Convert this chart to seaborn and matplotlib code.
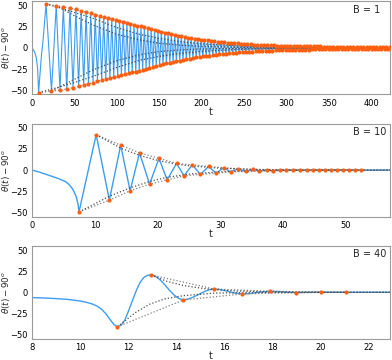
import matplotlib
matplotlib.use('Agg')
import matplotlib.pyplot as plt
import numpy as np
import pandas as pd
import seaborn as sns

# ---- data ----
# B = 1 : extrema of theta(t) - 90 (t, value)
b1_max = [
    (16.4, 52.0), (28.4, 50.0), (36.8, 48.5), (44.6, 47.0), (51.6, 45.5),
    (57.8, 44.0), (63.6, 42.5), (69.1, 41.0), (74.4, 39.5), (79.5, 38.0),
    (84.4, 36.8), (89.2, 35.6), (93.9, 34.4), (98.5, 33.2), (103.0, 32.0),
    (107.4, 30.9), (111.7, 29.8), (115.9, 28.7), (120.1, 27.6), (124.2, 26.5),
    (128.3, 25.4), (132.3, 24.3), (136.3, 23.2), (140.3, 22.1), (144.3, 21.0),
    (148.3, 20.0), (152.3, 19.0), (156.3, 18.0), (160.3, 17.1), (164.2, 16.2),
    (168.1, 15.4), (172.0, 14.6), (175.9, 13.8), (179.8, 13.0), (183.7, 12.3),
    (187.6, 11.6), (191.5, 11.0), (195.4, 10.4), (199.3, 9.8), (203.2, 9.3),
    (207.1, 8.8), (211.0, 8.3), (214.9, 7.8), (218.8, 7.4), (222.7, 7.0),
    (226.6, 6.6), (230.5, 6.2), (234.4, 5.9), (238.3, 5.6), (242.2, 5.3),
    (246.1, 5.0), (250.0, 4.7), (253.9, 4.5), (257.8, 4.2), (261.7, 4.0),
    (265.6, 3.8), (269.5, 3.6), (273.4, 3.4), (277.3, 3.2), (281.2, 3.1),
    (285.1, 2.9), (289.0, 2.8), (292.9, 2.6), (296.8, 2.5), (300.7, 2.4),
    (304.6, 2.3), (308.5, 2.2), (312.4, 2.1), (316.3, 2.0), (320.2, 1.9),
    (324.1, 1.9), (328.0, 1.8), (331.9, 1.8), (335.8, 1.7), (339.7, 1.7),
    (343.6, 1.6), (347.5, 1.6), (351.4, 1.5), (355.3, 1.5), (359.2, 1.4),
    (363.1, 1.4), (367.0, 1.4), (370.9, 1.3), (374.8, 1.3), (378.7, 1.3),
    (382.6, 1.2), (386.5, 1.2), (390.4, 1.2), (394.3, 1.2), (398.2, 1.1),
    (402.1, 1.1), (406.0, 1.1), (409.9, 1.1), (413.8, 1.0), (417.7, 1.0),
    (421.6, 1.0),
]
b1_min = [
    (7.6, -53.0), (22.8, -51.0), (32.8, -50.0), (40.8, -48.5), (48.2, -47.0),
    (54.8, -45.5), (60.8, -44.0), (66.4, -42.5), (71.8, -41.0), (77.0, -39.5),
    (82.0, -38.2), (86.8, -37.0), (91.6, -35.8), (96.2, -34.6), (100.8, -33.4),
    (105.2, -32.3), (109.6, -31.2), (113.8, -30.1), (118.0, -29.0), (122.2, -27.9),
    (126.3, -26.8), (130.3, -25.7), (134.3, -24.6), (138.3, -23.5), (142.3, -22.4),
    (146.3, -21.3), (150.3, -20.3), (154.3, -19.3), (158.3, -18.4), (162.3, -17.5),
    (166.2, -16.6), (170.1, -15.8), (174.0, -15.0), (177.9, -14.2), (181.8, -13.4),
    (185.7, -12.7), (189.6, -12.0), (193.5, -11.3), (197.4, -10.7), (201.3, -10.1),
    (205.2, -9.5), (209.1, -9.0), (213.0, -8.5), (216.9, -8.0), (220.8, -7.6),
    (224.7, -7.2), (228.6, -6.8), (232.5, -6.4), (236.4, -6.0), (240.3, -5.7),
    (244.2, -5.4), (248.1, -5.1), (252.0, -4.8), (255.9, -4.6), (259.8, -4.3),
    (263.7, -4.1), (267.6, -3.9), (271.5, -3.7), (275.4, -3.5), (279.3, -3.3),
    (283.2, -3.1), (287.1, -3.0), (291.0, -2.8), (294.9, -2.7), (298.8, -2.6),
    (302.7, -2.5), (306.6, -2.4), (310.5, -2.3), (314.4, -2.2), (318.3, -2.1),
    (322.2, -2.0), (326.1, -1.9), (330.0, -1.8), (333.9, -1.8), (337.8, -1.7),
    (341.7, -1.7), (345.6, -1.6), (349.5, -1.6), (353.4, -1.5), (357.3, -1.5),
    (361.2, -1.4), (365.1, -1.4), (369.0, -1.4), (372.9, -1.3), (376.8, -1.3),
    (380.7, -1.3), (384.6, -1.2), (388.5, -1.2), (392.4, -1.2), (396.3, -1.2),
    (400.2, -1.1), (404.1, -1.1), (408.0, -1.1), (411.9, -1.0), (415.8, -1.0),
    (419.7, -1.0),
]
# start of the curve before the first extremum and between the first two
b1_start = [(0, 0), (3, -5), (5, -12), (6.5, -25), (11, -8), (12.5, 5)]
b1_end = [(422, 0)]
# decaying dotted curves
b1_env = [
    [(16.4, 52), (40, 45), (72, 35), (100, 24), (127, 16), (150, 11.4), (175, 7.5),
     (200, 4.8), (250, 2), (300, 0.8), (422, 0.1)],
    [(28.4, 50), (50, 38), (72, 27), (100, 16), (127, 9.5), (150, 5.5), (175, 3.2),
     (200, 1.8), (250, 0.6), (300, 0.2), (422, 0)],
    [(7.6, -53), (40, -44), (72, -33.7), (100, -23), (127, -14.5), (150, -10),
     (175, -6.5), (200, -4), (250, -1.5), (300, -0.5), (422, 0)],
    [(22.8, -51), (50, -37), (72, -25.9), (100, -15), (127, -8), (150, -4.3),
     (175, -2.3), (200, -1.2), (250, -0.4), (422, 0)],
]

# B = 10
b10_max = [(10.2, 41.9), (14.1, 29.4), (17.1, 20.5), (20.2, 13.9), (23.0, 7.9),
           (25.5, 6.3), (28.1, 4.3), (30.5, 2.8), (32.8, 1.6), (35.1, 0.8),
           (37.4, 0.4), (39.5, 0.3), (41.6, 0.3), (43.7, 0.2), (45.7, 0.2),
           (47.6, 0.1), (49.5, 0.1), (51.4, 0.1)]
b10_min = [(7.46, -49.5), (12.3, -35.6), (15.6, -24.5), (18.7, -16.6), (21.5, -11.5),
           (24.2, -6.8), (26.8, -5.1), (29.3, -3.6), (31.6, -2.0), (34.0, -1.6),
           (36.2, -1.2), (38.4, -0.8), (40.5, -0.4), (42.6, -0.3), (44.7, -0.2),
           (46.6, -0.2), (48.5, -0.1), (50.4, -0.1), (52.4, -0.1)]
b10_start = [(0, 0), (1, -2), (2, -4.5), (3, -7), (4, -9.5), (5, -12.5), (5.5, -14.6),
             (6, -18), (6.5, -23), (7, -31), (7.3, -40)]
b10_end = [(57, 0)]
b10_env = [
    [(10.2, 41.9), (14.1, 26), (17.1, 17.5), (20.2, 11), (23, 7), (25, 5.1),
     (30, 2.2), (35, 0.9), (40, 0.3), (57, 0)],
    [(7.46, -49.5), (12.3, -31), (15.6, -21), (18.7, -13.5), (21.5, -8.5),
     (25, -4.7), (30, -2), (35, -0.8), (40, -0.3), (57, 0)],
]

# B = 40
b40_max = [(12.95, 20.5), (15.58, 3.9), (17.9, 1.2), (20.03, 0.15)]
b40_min = [(11.55, -40.8), (14.3, -9.1), (16.75, -2.0), (18.97, -0.4), (21.05, 0.0)]
b40_curve = [(8, -6.3), (8.5, -6.8), (9, -7.5), (9.5, -8.5), (10, -10.3), (10.25, -11.8),
             (10.5, -13.8), (10.7, -16.3), (10.9, -20.3), (11.1, -26.5), (11.25, -32.5),
             (11.4, -38), (11.7, -39), (11.85, -33.5), (12, -23), (12.2, -8),
             (12.35, 3), (12.5, 12), (12.65, 17.5), (12.8, 20.1), (13.1, 19.6),
             (13.3, 15.5), (13.5, 9.5), (13.7, 3), (13.9, -3), (14.1, -7.3),
             (14.5, -8), (14.7, -5.8), (14.95, -2.3), (15.2, 1.2), (15.4, 3.2),
             (15.8, 3.4), (16.1, 1.5), (16.4, -0.8), (17.1, -1.4), (17.5, 0.2),
             (18.3, 0.8), (18.6, 0.1), (19.5, -0.1), (22.9, 0)]
b40_env = [
    [(12.95, 20.5), (13.6, 13), (14.3, 8), (15, 5), (15.6, 3), (16.5, 1.5),
     (18, 0.5), (20, 0.1), (22.9, 0)],
    [(11.55, -40.8), (12.3, -24), (12.9, -14), (13.5, -8), (14.3, -4),
     (15.6, -1), (17, -0.3), (22.9, 0)],
]

labels = ['B = 1', 'B = 10', 'B = 40']
xlims = [(0, 422), (0, 57), (8, 22.9)]
xticks = [[0, 50, 100, 150, 200, 250, 300, 350, 400],
          [0, 10, 20, 30, 40, 50],
          [8, 10, 12, 14, 16, 18, 20, 22]]

blue = '#3d9df2'
orange = '#ff5f0f'

sns.set_style('white')
plt.rcParams['axes.edgecolor'] = '#9a9a9a'
plt.rcParams['xtick.color'] = '#555555'
plt.rcParams['ytick.color'] = '#555555'
plt.rcParams['xtick.labelcolor'] = 'black'
plt.rcParams['ytick.labelcolor'] = 'black'

fig, axes = plt.subplots(3, 1, figsize=(3.92, 3.6), dpi=100)
fig.subplots_adjust(left=0.082, right=0.995, top=0.996, bottom=0.059, hspace=0.314)


def frame(pairs):
    return pd.DataFrame(pairs, columns=['t', 'v'])


panels = [
    (b1_max, b1_min, b1_start, b1_end, b1_env, 0.8),
    (b10_max, b10_min, b10_start, b10_end, b10_env, 1.0),
    (b40_max, b40_min, None, None, b40_env, 1.0),
]

for i, (ax, (mx, mn, start, end, env, lw)) in enumerate(zip(axes, panels)):
    peaks = frame(mx + mn)
    if start is None:
        curve = frame(b40_curve + mx + mn).sort_values('t')
    else:
        curve = frame(start + mx + mn + end).sort_values('t')

    sns.lineplot(data=curve, x='t', y='v', ax=ax, color=blue, lw=lw,
                 estimator=None, sort=False)
    # dotted envelopes: through the peaks and the decaying fits
    for side in (mx, mn):
        d = frame(side)
        sns.lineplot(data=d, x='t', y='v', ax=ax, color='0.5', lw=0.9,
                     ls=(0, (1, 1.6)), estimator=None, sort=False)
    for e in env:
        d = frame(e)
        sns.lineplot(data=d, x='t', y='v', ax=ax, color='0.3', lw=0.9,
                     ls=(0, (1, 1.6)), estimator=None, sort=False)
    sns.scatterplot(data=peaks, x='t', y='v', ax=ax, color=orange, s=9,
                    linewidth=0, zorder=5)

    ax.set_xlim(*xlims[i])
    ax.set_ylim(-55, 55)
    ax.set_xticks(xticks[i])
    ax.set_yticks([-50, -25, 0, 25, 50])
    ax.tick_params(labelsize=6, length=2, width=0.6, pad=1)
    ax.set_xlabel('t', fontsize=7, labelpad=0)
    ax.xaxis.set_label_coords(0.5, -0.13)
    ax.set_ylabel(r'$\theta(t) - 90^o$', fontsize=6.3)
    ax.yaxis.set_label_coords(-0.055, 0.5)
    ax.text(0.897, 0.965, labels[i], transform=ax.transAxes, ha='left', va='top',
            fontsize=7)
    for s in ax.spines.values():
        s.set_linewidth(0.8)

fig.savefig('out.png', dpi=100)
